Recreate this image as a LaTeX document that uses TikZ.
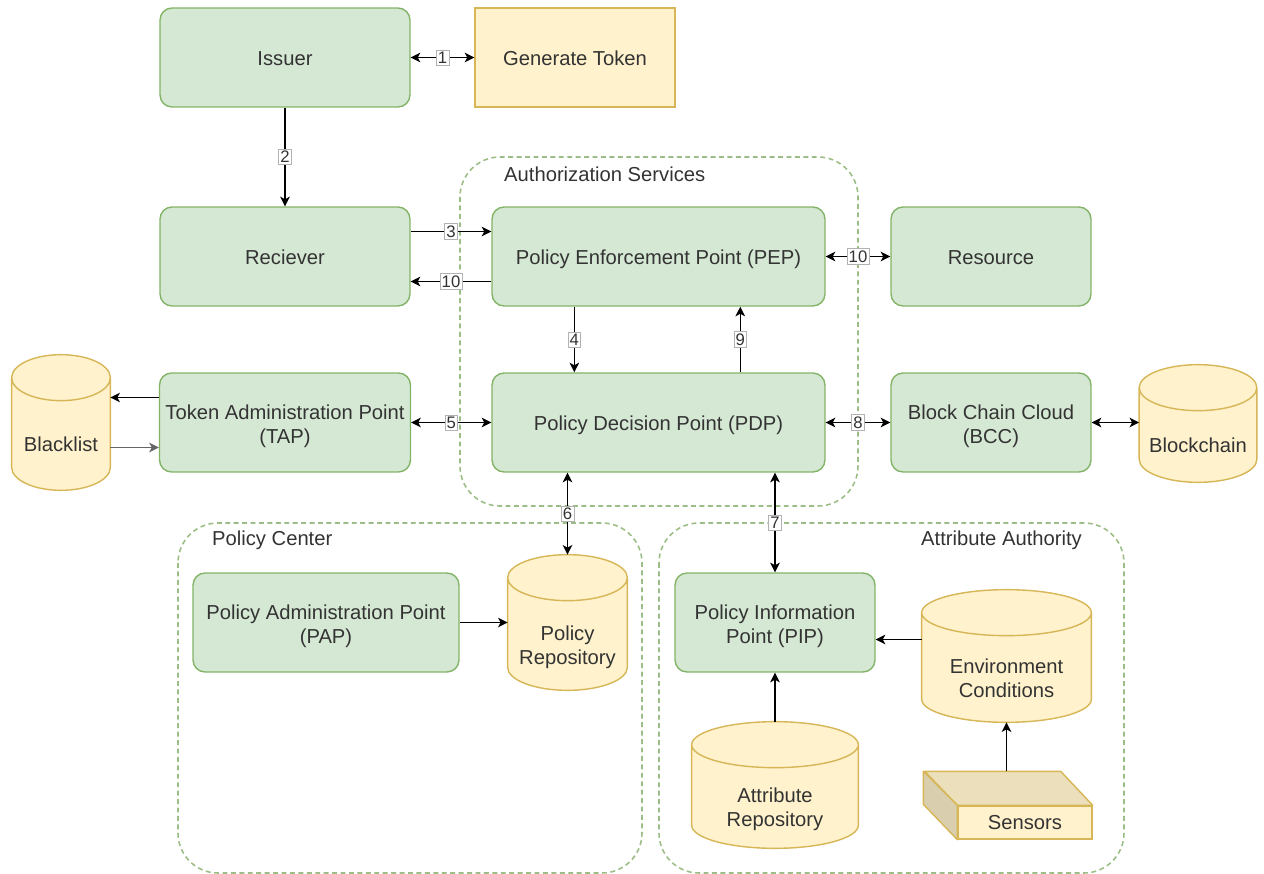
\documentclass[tikz,border=0pt]{standalone}
\usepackage{fontspec}
\setmainfont{Liberation Sans}
\usetikzlibrary{arrows.meta,calc,backgrounds}
\definecolor{boxfill}{HTML}{D5E8D4}
\definecolor{boxline}{HTML}{82B366}
\definecolor{dbfill}{HTML}{FFF2CC}
\definecolor{dbline}{HTML}{D6B656}
\definecolor{grpline}{HTML}{9CBE86}
\definecolor{txt}{HTML}{333333}
% cylinder round a named node
\newcommand\drum[1]{%
  \draw[draw=dbline,fill=dbfill,line width=0.8pt]
    let \p1=(#1.north west), \p2=(#1.south east), \n1={(\x2-\x1)/2}, \n2={0.46cm} in
    (\x1,\y1-\n2) -- (\x1,\y2+\n2) arc[start angle=180,end angle=360,x radius=\n1,y radius=\n2]
    -- (\x2,\y1-\n2) arc[start angle=0,end angle=180,x radius=\n1,y radius=\n2] -- cycle
    (\x1,\y1-\n2) arc[start angle=180,end angle=360,x radius=\n1,y radius=\n2];
}
\tikzset{
  lbl/.style={text=txt,font=\fontsize{11.5}{13.6}\selectfont},
  box/.style={lbl,draw=boxline,fill=boxfill,rounded corners=0.24cm,line width=0.8pt,
    minimum width=5cm,minimum height=1.98cm,align=center,text height=0.9em,text depth=0pt},
  two/.style={text height=24pt},
  db/.style={minimum width=#1,inner sep=0pt},
  dbl/.style={lbl,align=center,yshift=-0.45cm,text height=0.72em,text depth=0pt},
  dbltwo/.style={dbl,text height=21.9pt},
  group/.style={draw=grpline,line width=0.9pt,dash pattern=on 2.8pt off 2pt,rounded corners=0.8cm},
  arr/.style={-{Stealth[length=5.5pt,width=5.5pt,inset=1.5pt]},line width=0.75pt},
  both/.style={{Stealth[length=5.5pt,width=5.5pt,inset=1.5pt]}-{Stealth[length=5.5pt,width=5.5pt,inset=1.5pt]},line width=0.75pt},
  num/.style={draw=black!30,fill=white,inner sep=1pt,line width=0.4pt,text=txt,font=\fontsize{9.5}{10}\selectfont},
}
\begin{document}
\begin{tikzpicture}[x=0.02cm,y=-0.02cm]
\useasboundingbox (0,0) rectangle (1264,874);
%groups
\draw[group] (460,157) rectangle (858,506);
\draw[group] (178,523) rectangle (642,873);
\draw[group] (659,523) rectangle (1124,873);
\node[lbl,anchor=west] at (498,174) {Authorization Services};
\node[lbl,anchor=west] at (206,540) {Policy Center};
\node[lbl,anchor=east] at (1088,540) {Attribute Authority};
%boxes
\node[box] (issuer) at (285,57.5) {Issuer};
\node[box,draw=dbline,fill=dbfill,rounded corners=0pt,minimum width=4cm] (gen) at (575,57.5) {Generate Token};
\node[box] (rec) at (285,256.5) {Reciever};
\node[box,minimum width=6.66cm] (pep) at (658.5,256.5) {Policy Enforcement Point (PEP)};
\node[box,minimum width=4cm] (res) at (991,256.5) {Resource};
\node[box,two] (tap) at (285,422.5) {Token Administration Point\\(TAP)};
\node[box,minimum width=6.66cm] (pdp) at (658.5,422.5) {Policy Decision Point (PDP)};
\node[box,two,minimum width=4cm] (bcc) at (991,422.5) {Block Chain Cloud\\(BCC)};
\node[box,two,minimum width=5.32cm] (pap) at (326,622.5) {Policy Administration Point\\(PAP)};
\node[box,two,minimum width=4cm] (pip) at (775,622.5) {Policy Information\\Point (PIP)};
%stores
\node[db=1.96cm,minimum height=2.7cm,label={[dbl]center:Blacklist}] (bl) at (61,422.5) {};
\node[db=2.34cm,minimum height=2.34cm,label={[dbl]center:Blockchain}] (bc) at (1198,423.5) {};
\node[db=2.38cm,minimum height=2.7cm,label={[dbltwo]center:Policy\\Repository}] (polrep) at (567.5,622.5) {};
\node[db=3.38cm,minimum height=2.64cm,label={[dbltwo]center:Environment\\Conditions}] (env) at (1006.5,656) {};
\node[db=3.32cm,minimum height=2.52cm,label={[dbltwo]center:Attribute\\Repository}] (attrep) at (775,785) {};
\begin{scope}[on background layer]
\foreach \s in {bl,bc,polrep,env,attrep} {\drum{\s}}
\end{scope}
%sensor block
\node[lbl,draw=dbline,fill=dbfill,line width=0.8pt,minimum width=2.68cm,minimum height=0.66cm,inner sep=0pt] (sens) at (1025,822.5) {Sensors};
\draw[draw=dbline,fill=dbfill!92!black,line width=0.8pt,line join=round] (sens.north west) -- (sens.north east) -- ++(-32,-34) -- ++(-136,0) -- cycle;
\draw[draw=dbline,fill=dbfill!85!black,line width=0.8pt,line join=round] (sens.north west) -- ++(-34,-34) -- ++(0,33) -- (sens.south west) -- cycle;
%links
\draw[both] (issuer) -- node[num]{1} (gen);
\draw[arr] (issuer) -- node[num]{2} (rec);
\draw[arr] ([yshift=5mm]rec.east) -- node[num]{3} ([yshift=5mm]pep.west);
\draw[arr] ([yshift=-5mm]pep.west) -- node[num]{10} ([yshift=-5mm]rec.east);
\draw[both] (pep) -- node[num]{10} (res);
\draw[arr] ([xshift=1.66cm]pep.south west) -- node[num]{4} ([xshift=1.66cm]pdp.north west);
\draw[arr] ([xshift=4.98cm]pdp.north west) -- node[num]{9} ([xshift=4.98cm]pep.south west);
\draw[arr] ([yshift=5mm]tap.west) -- ([yshift=5mm]tap.west -| bl.east);
\draw[arr,black!60] ([yshift=-5mm]tap.west -| bl.east) -- ([yshift=-5mm]tap.west);
\draw[both] (tap) -- node[num]{5} (pdp);
\draw[both] (pdp) -- node[num]{8} (bcc);
\draw[both] (bcc.east) -- (bcc.east -| bc.west);
\draw[both] (pdp.south -| polrep.north) -- node[num]{6} (polrep.north);
\draw[both] (pdp.south -| pip.north) -- node[num]{7} (pip.north);
\draw[arr] (pap) -- (pap.east -| polrep.west);
\draw[arr] ([yshift=-3.4mm]pip.east -| env.west) -- ([yshift=-3.4mm]pip.east);
\draw[arr] (attrep.north) -- (pip.south);
\draw[arr] (sens.north -| env.south) ++(0,-34) -- (env.south);
\end{tikzpicture}
\end{document}
